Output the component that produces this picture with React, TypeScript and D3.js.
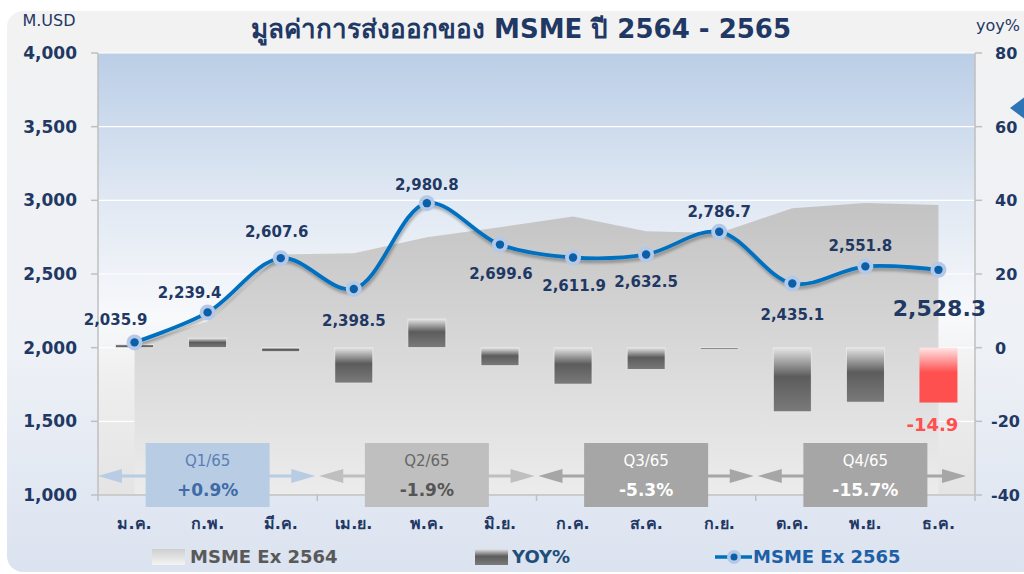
import React from "react";
import * as d3 from "d3";

// months (Thai abbreviations)
const months = ["ม.ค.", "ก.พ.", "มี.ค.", "เม.ย.", "พ.ค.", "มิ.ย.", "ก.ค.", "ส.ค.", "ก.ย.", "ต.ค.", "พ.ย.", "ธ.ค."];

// MSME exports 2565 (M.USD)
const ex2565 = [2035.9, 2239.4, 2607.6, 2398.5, 2980.8, 2699.6, 2611.9, 2632.5, 2786.7, 2435.1, 2551.8, 2528.3];

// MSME exports 2564 (M.USD), read from the grey area
const ex2564 = [2018, 2180, 2633, 2641, 2750, 2818, 2891, 2791, 2778, 2946, 2982, 2968];

// YOY % growth
const yoy = [0.9, 2.6, -1.1, -9.6, 7.8, -4.9, -9.9, -5.9, -0.2, -17.4, -14.8, -14.9];

// quarter summaries
const quarters = ["Q1/65", "Q2/65", "Q3/65", "Q4/65"];
const quarterYoy = ["+0.9%", "-1.9%", "-5.3%", "-15.7%"];

const leftTicks = [1000, 1500, 2000, 2500, 3000, 3500, 4000];
const rightTicks = [-40, -20, 0, 20, 40, 60, 80];

// label placement for the line values: [dx, baseline offset from point]
const labelPos: [number, number][] = [
  [-19, -17], [-18, -14], [-4, -21], [0, 37], [0, -13], [1, 34],
  [1, 33], [0, 33], [0, -15], [0, 36], [-5, -15], [1, 46],
];

const W = 1024;
const H = 574;
const L = 98;
const R = 975;
const T = 53;
const B = 495;

const navy = "#1f3864";
const font = "'DejaVu Sans', 'Noto Sans', sans-serif";

export default function App() {
  const x = d3.scaleBand<string>().domain(months).range([L, R]);
  const cx = (i: number) => (x(months[i]) as number) + x.bandwidth() / 2;
  const yL = d3.scaleLinear().domain([1000, 4000]).range([B, T]);
  const yR = d3.scaleLinear().domain([-40, 80]).range([B, T]);

  const area = d3
    .area<number>()
    .x((_, i) => cx(i))
    .y0(B)
    .y1((d) => yL(d));

  const line = d3
    .line<number>()
    .x((_, i) => cx(i))
    .y((d) => yL(d))
    .curve(d3.curveCatmullRom.alpha(0.5));

  const barW = x.bandwidth() * 0.52;
  const qW = x.bandwidth() * 3;
  const arrowY = 476;

  const qStyles = [
    { box: "#b8cce4", arrow: "#b8cce4", t1: "#5b7fb4", t2: "#3f6aa6" },
    { box: "#bfbfbf", arrow: "#bfbfbf", t1: "#666666", t2: "#555555" },
    { box: "#a6a6a6", arrow: "#a6a6a6", t1: "#ffffff", t2: "#ffffff" },
    { box: "#a6a6a6", arrow: "#a6a6a6", t1: "#ffffff", t2: "#ffffff" },
  ];

  return (
    <svg
      width={W}
      height={H}
      style={{ position: "absolute", left: 0, top: 0, fontFamily: font }}
    >
      <defs>
        <linearGradient id="panel" x1="0" y1="0" x2="0" y2="1">
          <stop offset="0" stopColor="#f2f2f2" />
          <stop offset="0.6" stopColor="#eef1f6" />
          <stop offset="1" stopColor="#dbe3f0" />
        </linearGradient>
        <linearGradient id="plotbg" x1="0" y1="0" x2="0" y2="1">
          <stop offset="0" stopColor="#bacee6" />
          <stop offset="0.3" stopColor="#dde6f2" />
          <stop offset="0.6" stopColor="#f8f9fb" />
          <stop offset="0.75" stopColor="#eeeeee" />
          <stop offset="1" stopColor="#e4e4e4" />
        </linearGradient>
        <linearGradient id="areaFill" x1="0" y1="0" x2="0" y2="1">
          <stop offset="0" stopColor="#c3c3c3" />
          <stop offset="0.45" stopColor="#d6d6d6" />
          <stop offset="1" stopColor="#ececec" />
        </linearGradient>
        <linearGradient id="barGrey" x1="0" y1="0" x2="0" y2="1">
          <stop offset="0" stopColor="#e6e6e6" />
          <stop offset="0.45" stopColor="#5c5c5c" />
          <stop offset="1" stopColor="#7a7a7a" />
        </linearGradient>
        <linearGradient id="barRed" x1="0" y1="0" x2="0" y2="1">
          <stop offset="0" stopColor="#ffe6e6" />
          <stop offset="0.45" stopColor="#ff5050" />
          <stop offset="1" stopColor="#ff5050" />
        </linearGradient>
        <linearGradient id="legGrey" x1="0" y1="0" x2="0" y2="1">
          <stop offset="0" stopColor="#cfcfcf" />
          <stop offset="1" stopColor="#f4f4f4" />
        </linearGradient>
        <filter id="shadow" x="-5%" y="-20%" width="110%" height="140%">
          <feGaussianBlur in="SourceAlpha" stdDeviation="1.5" />
          <feOffset dx="1" dy="3" result="b" />
          <feComponentTransfer>
            <feFuncA type="linear" slope="0.3" />
          </feComponentTransfer>
          <feMerge>
            <feMergeNode />
            <feMergeNode in="SourceGraphic" />
          </feMerge>
        </filter>
      </defs>

      <rect x={0} y={0} width={W} height={H} fill="#ffffff" />
      <rect x={7} y={11} width={W + 20} height={561} rx={16} fill="url(#panel)" />

      {/* title */}
      <text x={521} y={38} textAnchor="middle" fontSize={26} fontWeight={700} fill={navy}>
        มูลค่าการส่งออกของ MSME ปี 2564 - 2565
      </text>
      <text x={49} y={26} textAnchor="middle" fontSize={16} fill={navy}>M.USD</text>
      <text x={998} y={31} textAnchor="middle" fontSize={16} fill={navy}>yoy%</text>

      {/* plot background */}
      <rect x={L} y={T} width={R - L} height={B - T} fill="url(#plotbg)" />

      {/* gridlines */}
      {leftTicks.map((t) => (
        <line key={t} x1={L} x2={R} y1={yL(t)} y2={yL(t)} stroke="#ffffff" strokeWidth={1.2} />
      ))}

      {/* 2564 area */}
      <path d={area(ex2564) || ""} fill="url(#areaFill)" />

      {/* YOY bars */}
      {yoy.map((v, i) => {
        const y0 = yR(0);
        const y1 = yR(v);
        const last = i === yoy.length - 1;
        return (
          <rect
            key={i}
            x={cx(i) - barW / 2}
            y={Math.min(y0, y1)}
            width={barW}
            height={Math.max(Math.abs(y1 - y0), 1.5)}
            fill={last ? "url(#barRed)" : "url(#barGrey)"}
            stroke={last ? "none" : "#e8e8e8"}
            strokeWidth={0.8}
          />
        );
      })}

      {/* axes */}
      <line x1={L} x2={L} y1={T} y2={B} stroke="#bfbfbf" strokeWidth={1.5} />
      <line x1={R} x2={R} y1={T} y2={B} stroke="#bfbfbf" strokeWidth={1.5} />
      <line x1={L} x2={R} y1={B} y2={B} stroke="#bfbfbf" strokeWidth={1.5} />
      {leftTicks.map((t) => (
        <g key={t}>
          <line x1={L - 7} x2={L} y1={yL(t)} y2={yL(t)} stroke="#bfbfbf" strokeWidth={1.5} />
          <text x={77} y={yL(t) + 6} textAnchor="end" fontSize={17} fontWeight={700} fill={navy}>
            {d3.format(",")(t)}
          </text>
        </g>
      ))}
      {rightTicks.map((t) => (
        <g key={t}>
          <line x1={R} x2={R + 7} y1={yR(t)} y2={yR(t)} stroke="#bfbfbf" strokeWidth={1.5} />
          <text x={t < 0 ? 991 : 995} y={yR(t) + 6} fontSize={16} fontWeight={700} fill={navy}>
            {t}
          </text>
        </g>
      ))}
      {[0, 3, 6, 9, 12].map((k) => (
        <line key={k} x1={L + k * x.bandwidth()} x2={L + k * x.bandwidth()} y1={B} y2={B + 6} stroke="#bfbfbf" strokeWidth={1.5} />
      ))}
      {months.map((m, i) => (
        <text key={m} x={cx(i)} y={529} textAnchor="middle" fontSize={16} fontWeight={700} fill={navy}>
          {m}
        </text>
      ))}

      {/* quarter boxes and arrows */}
      {quarters.map((q, k) => {
        const x0 = L + k * qW;
        const x1 = x0 + qW;
        const mid = (x0 + x1) / 2;
        const s = qStyles[k];
        const tipL = x0 + (k === 0 ? 0 : 2);
        const tipR = x1 - (k === 3 ? 9 : 2);
        return (
          <g key={q}>
            <line x1={tipL + 18} x2={tipR - 18} y1={arrowY} y2={arrowY} stroke={s.arrow} strokeWidth={3} />
            <path d={`M${tipL},${arrowY} L${tipL + 24},${arrowY - 7} L${tipL + 24},${arrowY + 7} Z`} fill={s.arrow} />
            <path d={`M${tipR},${arrowY} L${tipR - 24},${arrowY - 7} L${tipR - 24},${arrowY + 7} Z`} fill={s.arrow} />
            <rect x={mid - 62} y={443} width={124} height={64} fill={s.box} />
            <text x={mid} y={466} textAnchor="middle" fontSize={15} fill={s.t1}>{q}</text>
            <text x={mid} y={496} textAnchor="middle" fontSize={17} fontWeight={700} fill={s.t2}>
              {quarterYoy[k]}
            </text>
          </g>
        );
      })}

      {/* 2565 line */}
      <path d={line(ex2565) || ""} fill="none" stroke="#0070c0" strokeWidth={3.8} filter="url(#shadow)" />
      {ex2565.map((v, i) => (
        <g key={i}>
          <circle cx={cx(i)} cy={yL(v)} r={8} fill="#b4c9e8" />
          <circle cx={cx(i)} cy={yL(v)} r={4.2} fill="#0b5fa8" />
        </g>
      ))}
      {ex2565.map((v, i) => {
        const last = i === ex2565.length - 1;
        return (
          <text
            key={i}
            x={cx(i) + labelPos[i][0]}
            y={yL(v) + labelPos[i][1]}
            textAnchor="middle"
            fontSize={last ? 22 : 15}
            fontWeight={700}
            fill={navy}
          >
            {d3.format(",.1f")(v)}
          </text>
        );
      })}
      <text x={cx(11) - 6} y={yR(yoy[11]) + 28} textAnchor="middle" fontSize={18} fontWeight={700} fill="#ff4f4f">
        {yoy[11].toFixed(1)}
      </text>

      {/* right blue arrow */}
      <path d="M1010,108 L1026,96 L1026,120 Z" fill="#2e75b6" />

      {/* legend */}
      <rect x={152} y={549} width={33} height={16} fill="url(#legGrey)" />
      <text x={190} y={563} fontSize={18} fontWeight={700} fill="#595959">MSME Ex 2564</text>
      <rect x={475} y={549} width={33} height={16} fill="url(#barGrey)" />
      <text x={512} y={563} fontSize={18} fontWeight={700} fill="#1f4e79">YOY%</text>
      <line x1={715} x2={752} y1={557} y2={557} stroke="#0070c0" strokeWidth={3.5} />
      <circle cx={734} cy={557} r={7} fill="#b4c9e8" />
      <circle cx={734} cy={557} r={3.5} fill="#0b5fa8" />
      <text x={753} y={563} fontSize={18} fontWeight={700} fill="#1f5fa6">MSME Ex 2565</text>
    </svg>
  );
}
